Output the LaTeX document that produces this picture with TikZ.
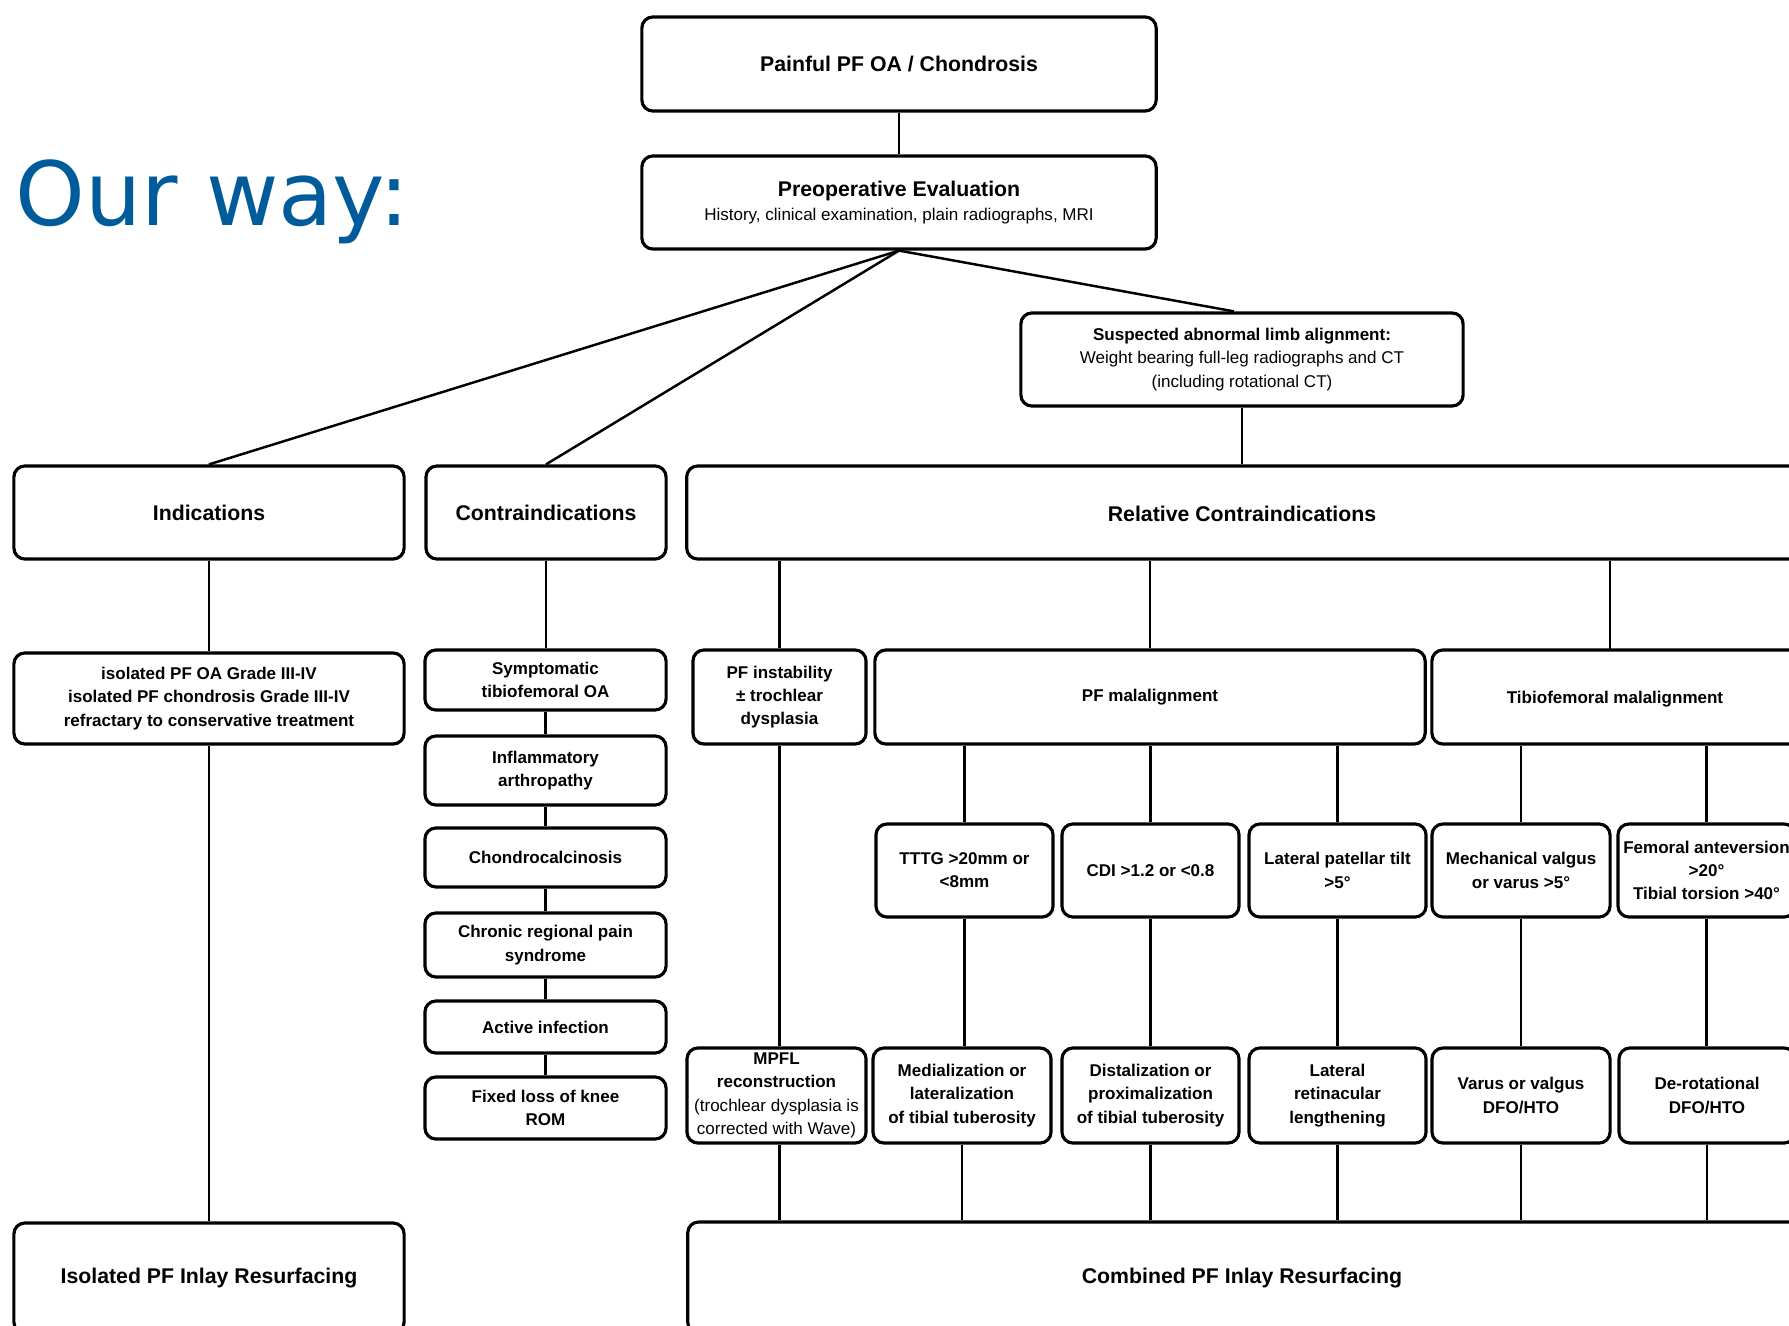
\documentclass[tikz,border=0pt]{standalone}
\usepackage{fontspec}
\setmainfont{Liberation Sans}
\newfontfamily\ourfont{DejaVu Sans}
\definecolor{ourblue}{RGB}{0,91,155}
\begin{document}
\begin{tikzpicture}[x=0.01cm, y=-0.01cm,
  box/.style={draw, line width=0.9pt, rounded corners=1.1mm, fill=white, align=center, inner sep=0pt,
    font=\bfseries\fontsize{4.84}{6.6}\selectfont},
  bigtxt/.style={font=\bfseries\fontsize{6.05}{7.6}\selectfont},
  plain/.style={inner sep=0pt, align=center},
  link/.style={line width=0.7pt}]
\useasboundingbox (0,0) rectangle (1789,1325);
\clip (0,0) rectangle (1789,1325);

% title
\node[plain, anchor=base west, text=ourblue, font=\ourfont\fontsize{25.2}{28}\selectfont] (title) at (15,226) {Our way:};

% top
\node[box, bigtxt, minimum width=5.14cm, minimum height=0.94cm] (top) at (899,64) {Painful PF OA / Chondrosis};
\node[box, minimum width=5.14cm, minimum height=0.93cm] (pre) at (899,202.5)
  {{\fontsize{6.05}{7.2}\selectfont Preoperative Evaluation}\\{\mdseries History, clinical examination, plain radiographs, MRI}};
\node[box, minimum width=4.42cm, minimum height=0.93cm] (sus) at (1242,359.5)
  {Suspected abnormal limb alignment:\\{\mdseries Weight bearing full-leg radiographs and CT}\\{\mdseries (including rotational CT)}};

% level 2
\node[box, bigtxt, minimum width=3.90cm, minimum height=0.93cm] (ind) at (209,512.5) {Indications};
\node[box, bigtxt, minimum width=2.40cm, minimum height=0.93cm] (con) at (546,512.5) {Contraindications};
\node[box, minimum width=11.43cm, minimum height=0.93cm] (rel) at (1258.5,512.5) {};
\node[plain, bigtxt] (relt) at (1242,513.5) {Relative Contraindications};

% indications column
\node[box, minimum width=3.90cm, minimum height=0.91cm] (det) at (209,698.5)
  {isolated PF OA Grade III-IV\\isolated PF chondrosis Grade III-IV\\refractary to conservative treatment};
\node[box, bigtxt, minimum width=3.90cm, minimum height=1.10cm] (iso) at (209,1278) {Isolated PF Inlay Resurfacing};

% contraindications column
\node[box, minimum width=2.41cm, minimum height=0.60cm] (sym) at (545.5,680) {Symptomatic\\tibiofemoral OA};
\node[box, minimum width=2.41cm, minimum height=0.69cm] (inf) at (545.5,770.5) {Inflammatory\\arthropathy};
\node[box, minimum width=2.41cm, minimum height=0.59cm] (cho) at (545.5,857.5) {Chondrocalcinosis};
\node[box, minimum width=2.41cm, minimum height=0.64cm] (chr) at (545.5,945) {Chronic regional pain\\syndrome};
\node[box, minimum width=2.41cm, minimum height=0.52cm] (act) at (545.5,1027) {Active infection};
\node[box, minimum width=2.41cm, minimum height=0.62cm] (fix) at (545.5,1108) {Fixed loss of knee\\ROM};

% relative level
\node[box, minimum width=1.73cm, minimum height=0.94cm] (pfi) at (779.5,697) {PF instability\\± trochlear\\dysplasia};
\node[box, minimum width=5.50cm, minimum height=0.94cm] (pfm) at (1150,697) {PF malalignment};
\node[box, minimum width=3.98cm, minimum height=0.94cm] (tfm) at (1631,697) {};
\node[plain, font=\bfseries\fontsize{4.84}{6.6}\selectfont] (tfmt) at (1615,699) {Tibiofemoral malalignment};
\coordinate (tfmin) at (1610,650);

% row 3
\node[box, minimum width=1.77cm, minimum height=0.93cm] (tttg) at (964.5,870.5) {TTTG >20mm or\\<8mm};
\node[box, minimum width=1.77cm, minimum height=0.93cm] (cdi) at (1150.5,870.5) {CDI >1.2 or <0.8};
\node[box, minimum width=1.77cm, minimum height=0.93cm] (lpt) at (1337.5,870.5) {Lateral patellar tilt\\>5°};
\node[box, minimum width=1.78cm, minimum height=0.93cm] (mv) at (1521,870.5) {Mechanical valgus\\or varus >5°};
\node[box, minimum width=1.77cm, minimum height=0.93cm] (fa) at (1706.5,870.5) {Femoral anteversion\\>20°\\Tibial torsion >40°};

% row 4
\node[box, minimum width=1.79cm, minimum height=0.95cm] (mpfl) at (776.5,1095.5)
  {MPFL\\reconstruction\\{\mdseries (trochlear dysplasia is}\\{\mdseries corrected with Wave)}};
\node[box, minimum width=1.78cm, minimum height=0.95cm] (med) at (962,1095.5) {Medialization or\\lateralization\\of tibial tuberosity};
\node[box, minimum width=1.77cm, minimum height=0.95cm] (dis) at (1150.5,1095.5) {Distalization or\\proximalization\\of tibial tuberosity};
\node[box, minimum width=1.77cm, minimum height=0.95cm] (lrl) at (1337.5,1095.5) {Lateral\\retinacular\\lengthening};
\node[box, minimum width=1.78cm, minimum height=0.95cm] (vv) at (1521,1095.5) {Varus or valgus\\DFO/HTO};
\node[box, minimum width=1.76cm, minimum height=0.95cm] (dr) at (1707,1095.5) {De-rotational\\DFO/HTO};

% combined
\node[box, minimum width=11.42cm, minimum height=1.11cm] (comb) at (1259,1277.5) {};
\node[plain, bigtxt] (combt) at (1242,1278) {Combined PF Inlay Resurfacing};

% connectors
\draw[link] (top.south) -- (pre.north);
\draw[link] (pre.south) -- (ind.north);
\draw[link] (pre.south) -- (con.north);
\draw[link] (pre.south) -- ([xshift=-0.08cm]sus.north);
\draw[link] (sus.south) -- (sus.south |- rel.north);

\draw[link] (ind.south) -- (det.north);
\draw[link] (det.south) -- (iso.north);

\draw[link] (con.south) -- (con.south |- sym.north);
\draw[link] (sym.south) -- (sym.south |- inf.north);
\draw[link] (inf.south) -- (inf.south |- cho.north);
\draw[link] (cho.south) -- (cho.south |- chr.north);
\draw[link] (chr.south) -- (chr.south |- act.north);
\draw[link] (act.south) -- (act.south |- fix.north);

\draw[link] (pfi.north) -- (pfi.north |- rel.south);
\draw[link] (pfm.north) -- (pfm.north |- rel.south);
\draw[link] (tfmin) -- (tfmin |- rel.south);

\draw[link] (tttg.north) -- (tttg.north |- pfm.south);
\draw[link] (cdi.north) -- (cdi.north |- pfm.south);
\draw[link] (lpt.north) -- (lpt.north |- pfm.south);
\draw[link] (mv.north) -- (mv.north |- tfm.south);
\draw[link] (fa.north) -- (fa.north |- tfm.south);

\draw[link] (pfi.south) -- (pfi.south |- mpfl.north);
\draw[link] (tttg.south) -- (tttg.south |- med.north);
\draw[link] (cdi.south) -- (cdi.south |- dis.north);
\draw[link] (lpt.south) -- (lpt.south |- lrl.north);
\draw[link] (mv.south) -- (mv.south |- vv.north);
\draw[link] (fa.south) -- (fa.south |- dr.north);

\draw[link] (pfi.south |- mpfl.south) -- (pfi.south |- comb.north);
\draw[link] (med.south) -- (med.south |- comb.north);
\draw[link] (dis.south) -- (dis.south |- comb.north);
\draw[link] (lrl.south) -- (lrl.south |- comb.north);
\draw[link] (vv.south) -- (vv.south |- comb.north);
\draw[link] (dr.south) -- (dr.south |- comb.north);
\end{tikzpicture}
\end{document}
